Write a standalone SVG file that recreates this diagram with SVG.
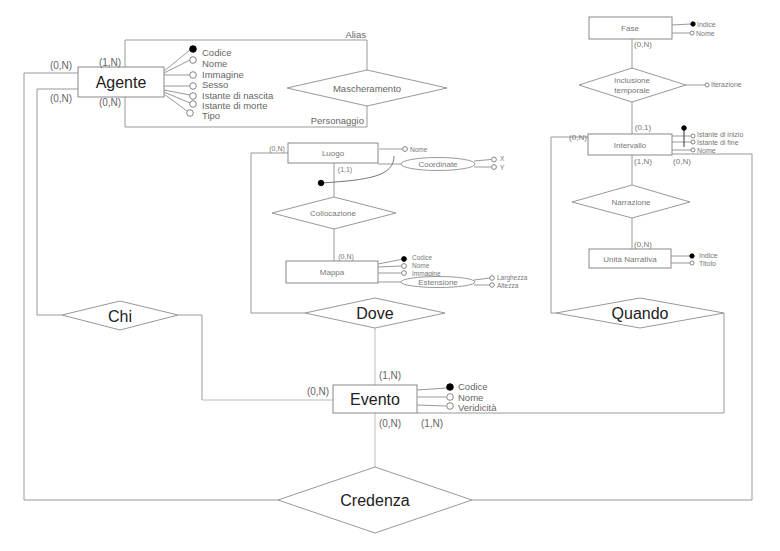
<svg xmlns="http://www.w3.org/2000/svg" width="780" height="551" viewBox="0 0 780 551">
  <style>
    text { font-family: "Liberation Sans", Arial, sans-serif; dominant-baseline: central; }
    .ln { stroke: #999; stroke-width: 1; fill: none; }
    .lt { stroke: #bbb; stroke-width: 1; fill: none; }
    .box { fill: #fff; stroke: #888; stroke-width: 1; }
    .rel { fill: #fff; stroke: #999; stroke-width: 1; }
    .big { font-size: 16px; fill: #222; text-anchor: middle; }
    .mid { font-size: 9.5px; fill: #666; text-anchor: middle; }
    .sm { font-size: 8px; fill: #777; text-anchor: middle; }
    .attr { font-size: 9.5px; fill: #666; }
    .attr7 { font-size: 7px; fill: #777; }
    .attr6 { font-size: 6.5px; fill: #777; }
    .card { font-size: 10px; fill: #666; text-anchor: middle; }
    .card8 { font-size: 8px; fill: #777; text-anchor: middle; }
    .card7 { font-size: 7px; fill: #777; text-anchor: middle; }
    .oc { fill: #fff; stroke: #777; stroke-width: 0.9; }
    .fc { fill: #000; stroke: #000; stroke-width: 0.9; }
  </style>

  <!-- relationship links -->
  <g id="connectors">
    <!-- Mascheramento loop on Agente -->
    <path class="ln" d="M125 67 V40 H367 V70"/>
    <path class="ln" d="M125 97 V127 H367 V106"/>
    <!-- Agente to Credenza -->
    <path class="ln" d="M78 73 H24 V500 H278"/>
    <!-- Agente to Chi -->
    <path class="ln" d="M78 89 H37 V315 H62"/>
    <!-- Chi to Evento -->
    <path class="ln" d="M178 315 H202 V400"/>
    <path class="lt" d="M202 400 H333"/>
    <!-- Luogo to Dove -->
    <path class="ln" d="M288 153 H251 V313 H305"/>
    <!-- Dove to Evento -->
    <path class="lt" d="M375 328 V385"/>
    <!-- Evento to Credenza -->
    <path class="lt" d="M375 413 V467"/>
    <!-- Luogo / Collocazione / Mappa -->
    <path class="ln" d="M334 163 V197"/>
    <path class="ln" d="M334 229 V261"/>
    <!-- Intervallo to Quando -->
    <path class="ln" d="M588 137 H551 V313 H556"/>
    <!-- Quando to Evento -->
    <path class="ln" d="M724 313 V413 H417"/>
    <!-- Intervallo to Credenza -->
    <path class="ln" d="M672 154 H752 V500 H472"/>
    <!-- Fase / Inclusione temporale / Intervallo -->
    <path class="ln" d="M632 39 V68"/>
    <path class="ln" d="M632 102 V134"/>
    <!-- Intervallo / Narrazione / Unità Narrativa -->
    <path class="ln" d="M632 155 V185"/>
    <path class="ln" d="M632 218 V249"/>
  </g>

  <!-- Agente -->
  <g id="agente">
    <rect class="box" x="78" y="67" width="86" height="30"/>
    <text class="big" x="121" y="82">Agente</text>
    <path class="ln" d="M164 71 L190 50 M164 73 L190 60 M164 75 H190 M164 86 H190 M164 90 L190 95 M164 92 L190 103 M164 94 L187 111" stroke="#888"/>
    <circle class="fc" cx="193" cy="49" r="3.3"/>
    <circle class="oc" cx="193" cy="60" r="3.3"/>
    <circle class="oc" cx="193" cy="75" r="3.3"/>
    <circle class="oc" cx="193" cy="86" r="3.3"/>
    <circle class="oc" cx="193" cy="96" r="3.3"/>
    <circle class="oc" cx="193" cy="104" r="3.3"/>
    <circle class="oc" cx="190" cy="113" r="3.3"/>
    <text class="attr" x="202" y="52">Codice</text>
    <text class="attr" x="202" y="63">Nome</text>
    <text class="attr" x="202" y="74">Immagine</text>
    <text class="attr" x="202" y="84.5">Sesso</text>
    <text class="attr" x="202" y="95.5">Istante di nascita</text>
    <text class="attr" x="202" y="105">Istante di morte</text>
    <text class="attr" x="202" y="115.5">Tipo</text>
    <text class="card" x="110" y="62">(1,N)</text>
    <text class="card" x="110" y="102">(0,N)</text>
    <text class="card" x="61" y="65">(0,N)</text>
    <text class="card" x="61" y="98">(0,N)</text>
  </g>

  <!-- Mascheramento -->
  <g id="mascheramento">
    <polygon class="rel" points="287,88 367,70 447,88 367,106"/>
    <text class="mid" x="367" y="88">Mascheramento</text>
    <text class="attr" x="366" y="34" text-anchor="end">Alias</text>
    <text class="attr" x="364" y="120" text-anchor="end">Personaggio</text>
  </g>

  <!-- Chi -->
  <g id="chi">
    <polygon class="rel" points="62,315 120,301 178,315 120,330"/>
    <text class="big" x="120" y="316">Chi</text>
  </g>

  <!-- Luogo -->
  <g id="luogo">
    <rect class="box" x="288" y="143" width="90" height="20"/>
    <text class="sm" x="333" y="153">Luogo</text>
    <text class="card7" x="277" y="148">(0,N)</text>
    <text class="card7" x="345" y="169">(1,1)</text>
    <path d="M378 149 H402" stroke="#ccc" stroke-width="2" fill="none"/>
    <circle class="oc" cx="405" cy="149" r="2.4"/>
    <text class="attr6" x="410" y="149.5">Nome</text>
    <path class="ln" d="M378 164 H401"/>
    <ellipse class="rel" cx="438" cy="164" rx="37" ry="6.5"/>
    <text class="sm" x="438" y="164">Coordinate</text>
    <path class="ln" d="M474 161 L491 159.5 M474 167 L491 167"/>
    <circle class="oc" cx="494" cy="159.5" r="2.4"/>
    <circle class="oc" cx="494" cy="167" r="2.4"/>
    <text class="attr6" x="500" y="158.5">X</text>
    <text class="attr6" x="500" y="167">Y</text>
    <!-- external identifier -->
    <path d="M394 156 C394 176, 370 180, 321 183" stroke="#777" stroke-width="1" fill="none"/>
    <circle class="fc" cx="321" cy="183" r="2.8"/>
  </g>

  <!-- Collocazione -->
  <g id="collocazione">
    <polygon class="rel" points="272,213 334,197 396,213 334,229"/>
    <text class="sm" x="333" y="213">Collocazione</text>
  </g>

  <!-- Mappa -->
  <g id="mappa">
    <rect class="box" x="286" y="261" width="92" height="22"/>
    <text class="sm" x="332" y="272">Mappa</text>
    <text class="card7" x="346" y="256">(0,N)</text>
    <path class="ln" d="M378 264 L401 259.5 M378 267 L401 266 M378 273 H401"/>
    <circle class="fc" cx="404" cy="259" r="2.4"/>
    <circle class="oc" cx="404" cy="266" r="2.4"/>
    <circle class="oc" cx="404" cy="273" r="2.4"/>
    <text class="attr6" x="412" y="257">Codice</text>
    <text class="attr6" x="412" y="265">Nome</text>
    <text class="attr6" x="412" y="273">Immagine</text>
    <path class="ln" d="M378 282 H401"/>
    <ellipse class="rel" cx="438" cy="282" rx="37" ry="5.5"/>
    <text class="sm" x="438" y="282">Estensione</text>
    <path class="ln" d="M474 280 L490 278 M474 285 H490"/>
    <circle class="oc" cx="492" cy="278" r="2.3"/>
    <circle class="oc" cx="492" cy="285" r="2.3"/>
    <text class="attr6" x="497" y="277.5">Larghezza</text>
    <text class="attr6" x="497" y="285.5">Altezza</text>
  </g>

  <!-- Dove -->
  <g id="dove">
    <polygon class="rel" points="305,313 375,298 445,313 375,328"/>
    <text class="big" x="375" y="313">Dove</text>
  </g>

  <!-- Evento -->
  <g id="evento">
    <rect class="box" x="333" y="385" width="84" height="28"/>
    <text class="big" x="375" y="399">Evento</text>
    <path class="ln" d="M417 390 L447 388 M417 397 H446 M417 405 L446 406" stroke="#888"/>
    <circle class="fc" cx="450" cy="387" r="3.3"/>
    <circle class="oc" cx="450" cy="397" r="3.3"/>
    <circle class="oc" cx="450" cy="406" r="3.3"/>
    <text class="attr" x="458" y="386">Codice</text>
    <text class="attr" x="458" y="397">Nome</text>
    <text class="attr" x="458" y="407.5">Veridicità</text>
    <text class="card" x="318" y="391">(0,N)</text>
    <text class="card" x="390" y="375">(1,N)</text>
    <text class="card" x="390" y="423">(0,N)</text>
    <text class="card" x="432" y="423">(1,N)</text>
  </g>

  <!-- Credenza -->
  <g id="credenza">
    <polygon class="rel" points="278,500 375,467 472,500 375,533"/>
    <text class="big" x="375" y="500">Credenza</text>
  </g>

  <!-- Fase -->
  <g id="fase">
    <rect class="box" x="589" y="17" width="83" height="22"/>
    <text class="sm" x="630" y="28">Fase</text>
    <path class="ln" d="M672 25 L691 24 M672 33 H690"/>
    <circle class="fc" cx="693" cy="24" r="2.2"/>
    <circle class="oc" cx="692" cy="33" r="2"/>
    <text class="attr7" x="697" y="24">Indice</text>
    <text class="attr7" x="696" y="33">Nome</text>
    <text class="card8" x="643" y="44">(0,N)</text>
  </g>

  <!-- Inclusione temporale -->
  <g id="inclusione-temporale">
    <polygon class="rel" points="579,85 632,68 686,85 632,102"/>
    <text class="sm" x="632" y="80">Inclusione</text>
    <text class="sm" x="632" y="90.5">temporale</text>
    <path class="ln" d="M686 85 H705"/>
    <circle class="oc" cx="707" cy="85" r="2"/>
    <text class="attr7" x="711" y="84.5">Iterazione</text>
  </g>

  <!-- Intervallo -->
  <g id="intervallo">
    <rect class="box" x="588" y="134" width="84" height="21"/>
    <text class="sm" x="630" y="145">Intervallo</text>
    <text class="card8" x="643" y="127">(0,1)</text>
    <text class="card8" x="578" y="137">(0,N)</text>
    <text class="card8" x="643" y="161">(1,N)</text>
    <text class="card8" x="682" y="161">(0,N)</text>
    <path class="ln" d="M672 136 H691 M672 142 H691 M672 150 H691" stroke="#777"/>
    <path d="M684 128 V147" stroke="#333" stroke-width="1" fill="none"/>
    <circle class="fc" cx="684" cy="128" r="2.3"/>
    <circle class="oc" cx="693" cy="136" r="2"/>
    <circle class="oc" cx="693" cy="142" r="2"/>
    <circle class="oc" cx="693" cy="150" r="2"/>
    <text class="attr7" x="697" y="134">Istante di inizio</text>
    <text class="attr7" x="697" y="142">Istante di fine</text>
    <text class="attr7" x="697" y="150">Nome</text>
  </g>

  <!-- Narrazione -->
  <g id="narrazione">
    <polygon class="rel" points="572,202 632,185 690,202 632,218"/>
    <text class="sm" x="631" y="202">Narrazione</text>
  </g>

  <!-- Unità Narrativa -->
  <g id="unita-narrativa">
    <rect class="box" x="589" y="249" width="82" height="19"/>
    <text class="sm" x="630" y="259">Unità Narrativa</text>
    <text class="card8" x="643" y="244">(0,N)</text>
    <path class="ln" d="M671 256 H690 M671 263 H690"/>
    <circle class="fc" cx="692" cy="256" r="2.2"/>
    <circle class="oc" cx="692" cy="263" r="2"/>
    <text class="attr7" x="699" y="255">Indice</text>
    <text class="attr7" x="699" y="263">Titolo</text>
  </g>

  <!-- Quando -->
  <g id="quando">
    <polygon class="rel" points="556,313 640,298 724,313 640,328"/>
    <text class="big" x="640" y="313">Quando</text>
  </g>
</svg>
